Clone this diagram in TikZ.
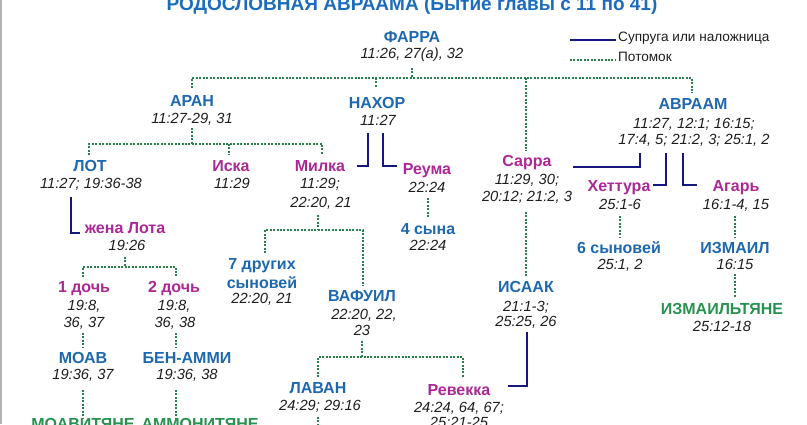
\documentclass[tikz,border=0pt]{standalone}
\usepackage{fontspec}
\setmainfont{Liberation Sans}
\definecolor{nameblue}{RGB}{30,104,176}
\definecolor{titleblue}{RGB}{28,108,190}
\definecolor{namemag}{RGB}{172,40,150}
\definecolor{namegreen}{RGB}{40,146,80}
\definecolor{dotgreen}{RGB}{40,128,78}
\definecolor{navyline}{RGB}{22,22,128}
\definecolor{reftext}{RGB}{30,30,30}
\tikzset{
  nm/.style={anchor=base, inner sep=0pt, font=\fontsize{16}{18}\selectfont\bfseries, text=nameblue},
  mg/.style={nm, text=namemag},
  gr/.style={nm, text=namegreen},
  rf/.style={anchor=base, inner sep=0pt, font=\fontsize{14.7}{17}\selectfont\itshape, text=reftext},
  desc/.style={draw=dotgreen, line width=2pt, dash pattern=on 2pt off 1.45pt},
  spouse/.style={draw=navyline, line width=2.5pt},
  legendtxt/.style={anchor=base west, inner sep=0pt, font=\fontsize{13.6}{16}\selectfont, text=reftext}
}
\begin{document}
\begin{tikzpicture}[x=1pt,y=-1pt]
\useasboundingbox (0,0) rectangle (807,424);
\fill[white] (0,0) rectangle (807,424);
\draw[black!30, line width=1.5pt] (0.75,0) -- (0.75,424);

% title
\node[anchor=base, inner sep=0pt, font=\fontsize{19}{22}\selectfont\bfseries, text=titleblue] (title) at (412,10) {РОДОСЛОВНАЯ АВРААМА (Бытие главы с 11 по 41)};

% legend
\coordinate (lg1a) at (570,40); \coordinate (lg1b) at (616,40);
\coordinate (lg2a) at (570,60); \coordinate (lg2b) at (616,60);
\draw[spouse] (lg1a) -- (lg1b);
\draw[desc] (lg2a) -- (lg2b);
\node[legendtxt] (lgt1) at (618,41.5) {Супруга или наложница};
\node[legendtxt] (lgt2) at (618,61.5) {Потомок};

% people
\node[nm] (farra) at (412,42.5) {ФАРРА};
\node[rf] (farra-r) at (412,58.5) {11:26, 27(а), 32};

\node[nm] (aran) at (192,106.5) {АРАН};
\node[rf] (aran-r) at (192,123.5) {11:27-29, 31};

\node[nm] (nahor) at (377,108) {НАХОР};
\node[rf] (nahor-r) at (378,125.5) {11:27};

\node[nm] (abraham) at (693,109.5) {АВРААМ};
\node[rf] (abraham-r1) at (694,128) {11:27, 12:1; 16:15;};
\node[rf] (abraham-r2) at (694,144.5) {17:4, 5; 21:2, 3; 25:1, 2};

\node[nm] (lot) at (90,171.5) {ЛОТ};
\node[rf] (lot-r) at (91,188.5) {11:27; 19:36-38};

\node[mg] (iska) at (231,171.5) {Иска};
\node[rf] (iska-r) at (232,188.5) {11:29};

\node[mg] (milka) at (320,171.5) {Милка};
\node[rf] (milka-r1) at (320,188.5) {11:29;};
\node[rf] (milka-r2) at (321,207.5) {22:20, 21};

\node[mg] (reuma) at (427,174.5) {Реума};
\node[rf] (reuma-r) at (427,192.5) {22:24};

\node[nm] (sons4) at (428,234.5) {4 сына};
\node[rf] (sons4-r) at (428,250.5) {22:24};

\node[mg] (sarra) at (527,166.5) {Сарра};
\node[rf] (sarra-r1) at (527,184.5) {11:29, 30;};
\node[rf] (sarra-r2) at (527,201.5) {20:12; 21:2, 3};

\node[mg] (hettura) at (619,191.5) {Хеттура};
\node[rf] (hettura-r) at (620,209.5) {25:1-6};

\node[mg] (hagar) at (736,191.5) {Агарь};
\node[rf] (hagar-r) at (736,209.5) {16:1-4, 15};

\node[nm] (sons6) at (619,253) {6 сыновей};
\node[rf] (sons6-r) at (620,269.5) {25:1, 2};

\node[nm] (ishmael) at (735,253) {ИЗМАИЛ};
\node[rf] (ishmael-r) at (735,269.5) {16:15};

\node[gr] (ishmaelites) at (722,314.5) {ИЗМАИЛЬТЯНЕ};
\node[rf] (ishmaelites-r) at (722,331.5) {25:12-18};

\node[mg] (lotwife) at (125,233.5) {жена Лота};
\node[rf] (lotwife-r) at (127,250) {19:26};

\node[mg] (d1) at (84,292.5) {1 дочь};
\node[rf] (d1-r1) at (84,310.5) {19:8,};
\node[rf] (d1-r2) at (84,327.5) {36, 37};

\node[mg] (d2) at (174,292.5) {2 дочь};
\node[rf] (d2-r1) at (174,310.5) {19:8,};
\node[rf] (d2-r2) at (175,327.5) {36, 38};

\node[nm] (moab) at (83,363) {МОАВ};
\node[rf] (moab-r) at (83,379.5) {19:36, 37};

\node[nm] (benammi) at (187,363) {БЕН-АММИ};
\node[rf] (benammi-r) at (187,379.5) {19:36, 38};

\node[gr] (moabites) at (83,429.5) {МОАВИТЯНЕ};
\node[gr] (ammonites) at (200,429.5) {АММОНИТЯНЕ};

\node[nm] (sons7a) at (262,269.5) {7 других};
\node[nm] (sons7b) at (262,288) {сыновей};
\node[rf] (sons7-r) at (262,303.5) {22:20, 21};

\node[nm] (bethuel) at (362,301.5) {ВАФУИЛ};
\node[rf] (bethuel-r1) at (364,319) {22:20, 22,};
\node[rf] (bethuel-r2) at (362,335) {23};

\node[nm] (isaac) at (526,292) {ИСААК};
\node[rf] (isaac-r1) at (526,311) {21:1-3;};
\node[rf] (isaac-r2) at (526,326.5) {25:25, 26};

\node[nm] (laban) at (318,393.5) {ЛАВАН};
\node[rf] (laban-r) at (320,410.5) {24:29; 29:16};

\node[mg] (rebekah) at (459,395) {Ревекка};
\node[rf] (rebekah-r1) at (459,412.5) {24:24, 64, 67;};
\node[rf] (rebekah-r2) at (459,427.5) {25:21-25};

% junction coordinates
\coordinate (fa0) at (412,68);  \coordinate (fa1) at (412,78);
\coordinate (faL) at (192,78);  \coordinate (faR) at (692,78);
\coordinate (toAran) at (192,88); \coordinate (toNahor) at (376,88);
\coordinate (faS) at (526,78); \coordinate (toSarra) at (526,151);
\coordinate (toAbr) at (692,93);

\coordinate (ar0) at (192,128); \coordinate (ar1) at (192,144);
\coordinate (arL) at (89,144); \coordinate (arR) at (322,144);
\coordinate (toLot) at (89,155); \coordinate (arI) at (229,144); \coordinate (toIska) at (229,155);
\coordinate (toMilka) at (322,155);

\coordinate (mi0) at (318,215); \coordinate (mi1) at (318,230);
\coordinate (miL) at (265,230); \coordinate (miR) at (363,230);
\coordinate (toSons7) at (265,253); \coordinate (toBeth) at (363,286);

\coordinate (re0) at (428,198); \coordinate (toSons4) at (428,218);
\coordinate (sa0) at (526,212); \coordinate (toIsaac) at (526,277);
\coordinate (he0) at (620,216); \coordinate (toSons6) at (620,238);
\coordinate (ha0) at (735,216); \coordinate (toIshm) at (735,238);
\coordinate (is0) at (735,274); \coordinate (toIshmites) at (735,297);

\coordinate (lw0) at (125,257); \coordinate (lw1) at (125,267);
\coordinate (lwL) at (83,267); \coordinate (lwR) at (176,267);
\coordinate (toD1) at (83,277); \coordinate (toD2) at (176,277);
\coordinate (d1a) at (83,333); \coordinate (toMoab) at (83,348);
\coordinate (d2a) at (176,333); \coordinate (toBen) at (176,348);
\coordinate (mo0) at (83,390); \coordinate (toMoabites) at (83,418);
\coordinate (be0) at (176,390); \coordinate (toAmmon) at (176,418);

\coordinate (bt0) at (362,341); \coordinate (bt1) at (362,357);
\coordinate (btL) at (318,357); \coordinate (btR) at (463,357);
\coordinate (toLaban) at (318,377); \coordinate (toRebek) at (463,377);
\coordinate (la0) at (318,417); \coordinate (laEnd) at (318,426);

% descendant lines
\draw[desc] (fa0) -- (fa1);
\draw[desc] (toAran) -- (faL) -- (faR) -- (toAbr);
\draw[desc] (toNahor |- fa1) -- (toNahor);
\draw[desc] (faS) -- (toSarra);

\draw[desc] (ar0) -- (ar1);
\draw[desc] (toLot) -- (arL) -- (arR) -- (toMilka);
\draw[desc] (arI) -- (toIska);

\draw[desc] (mi0) -- (mi1);
\draw[desc] (toSons7) -- (miL) -- (miR) -- (toBeth);

\draw[desc] (re0) -- (toSons4);
\draw[desc] (sa0) -- (toIsaac);
\draw[desc] (he0) -- (toSons6);
\draw[desc] (ha0) -- (toIshm);
\draw[desc] (is0) -- (toIshmites);

\draw[desc] (lw0) -- (lw1);
\draw[desc] (toD1) -- (lwL) -- (lwR) -- (toD2);
\draw[desc] (d1a) -- (toMoab);
\draw[desc] (d2a) -- (toBen);
\draw[desc] (mo0) -- (toMoabites);
\draw[desc] (be0) -- (toAmmon);

\draw[desc] (bt0) -- (bt1);
\draw[desc] (toLaban) -- (btL) -- (btR) -- (toRebek);
\draw[desc] (la0) -- (laEnd);

% spouse lines
\coordinate (nm0) at (368,133); \coordinate (nm1) at (368,166); \coordinate (nm2) at (357,166);
\coordinate (nr0) at (383,133); \coordinate (nr1) at (383,166); \coordinate (nr2) at (397,166);
\coordinate (lt0) at (71,197); \coordinate (lt1) at (71,233); \coordinate (lt2) at (80,233);
\coordinate (as0) at (640,153); \coordinate (as1) at (640,167); \coordinate (as2) at (573,167);
\coordinate (ah0) at (666,153); \coordinate (ah1) at (666,185); \coordinate (ah2) at (653,185);
\coordinate (ag0) at (683,153); \coordinate (ag1) at (683,185); \coordinate (ag2) at (697,185);
\coordinate (ir0) at (527,332); \coordinate (ir1) at (527,386); \coordinate (ir2) at (508,386);

\draw[spouse] (nm0) -- (nm1) -- (nm2);
\draw[spouse] (nr0) -- (nr1) -- (nr2);
\draw[spouse] (lt0) -- (lt1) -- (lt2);
\draw[spouse] (as0) -- (as1) -- (as2);
\draw[spouse] (ah0) -- (ah1) -- (ah2);
\draw[spouse] (ag0) -- (ag1) -- (ag2);
\draw[spouse] (ir0) -- (ir1) -- (ir2);
\end{tikzpicture}
\end{document}
